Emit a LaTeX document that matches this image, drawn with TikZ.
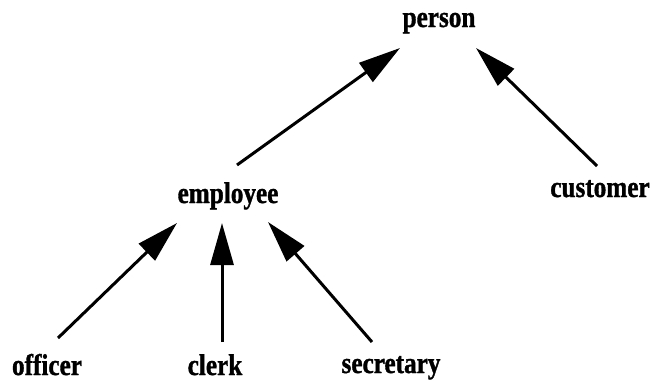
\documentclass[tikz,border=0pt]{standalone}
\usepackage{fontspec}
\setmainfont{Liberation Serif}[FakeStretch=0.84,FakeBold=1.2]
\usetikzlibrary{arrows.meta}
\begin{document}
\begin{tikzpicture}[x=1pt,y=-1pt,
  lbl/.style={anchor=base,inner sep=0pt,font=\fontsize{30}{30}\selectfont\bfseries},
  arr/.style={line width=3pt,-{Triangle[length=42pt,width=23pt]}}]
\useasboundingbox (0,0) rectangle (652,383);
\node[lbl] (person) at (439,27) {person};
\node[lbl] (employee) at (228,203) {employee};
\node[lbl] (customer) at (600,197) {customer};
\node[lbl] (officer) at (47,375) {officer};
\node[lbl] (clerk) at (215,375) {clerk};
\node[lbl] (secretary) at (391,373) {secretary};
\draw[arr] ([shift={(9,-38)}]employee.base) -- ([shift={(-39,21)}]person.base);
\draw[arr] ([shift={(-3,-31)}]customer.base) -- ([shift={(37,21)}]person.base);
\draw[arr] ([shift={(11,-37)}]officer.base) -- ([shift={(-51,20)}]employee.base);
\draw[arr] ([shift={(7,-33)}]clerk.base) -- ([shift={(-6,20)}]employee.base);
\draw[arr] ([shift={(-19,-31)}]secretary.base) -- ([shift={(40,19)}]employee.base);
\end{tikzpicture}
\end{document}
